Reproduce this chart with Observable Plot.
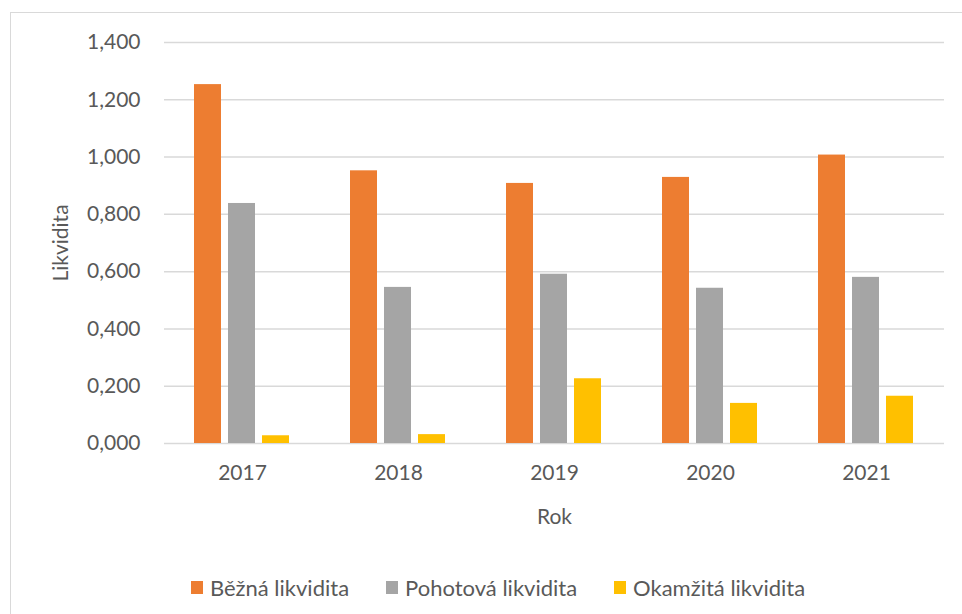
<!DOCTYPE html>
<html>
<head>
<meta charset="utf-8">
<script src="https://cdn.jsdelivr.net/npm/d3@7"></script>
<script src="https://cdn.jsdelivr.net/npm/@observablehq/plot@0.6"></script>
<style>
  html, body { margin: 0; padding: 0; background: #fff; }
  #wrap { position: relative; width: 962px; height: 614px; overflow: hidden; font-family: Lato, "Liberation Sans", sans-serif; }
  #frame { position: absolute; left: 10px; top: 12px; width: 980px; height: 640px; border: 1px solid #d9d9d9; box-sizing: border-box; }
  #chart { position: absolute; left: 0; top: 0; }
  #legend { position: absolute; left: 0; top: 560px; width: 962px; height: 54px; display: flex; justify-content: center; align-items: center; gap: 37px; padding-left: 34px; box-sizing: border-box; font-size: 22px; color: #595959; }
  .item { display: flex; align-items: center; gap: 7px; }
  .sw { width: 12px; height: 13px; display: inline-block; }
</style>
</head>
<body>
<div id="wrap">
  <div id="frame"></div>
  <div id="chart"></div>
  <div id="legend"></div>
</div>
<script>
const years = ["2017", "2018", "2019", "2020", "2021"];
const series = ["Běžná likvidita", "Pohotová likvidita", "Okamžitá likvidita"];
const bezna = [1.253, 0.952, 0.908, 0.929, 1.007];
const pohotova = [0.838, 0.545, 0.591, 0.542, 0.580];
const okamzita = [0.027, 0.031, 0.226, 0.140, 0.165];
const colors = ["#ED7D31", "#A5A5A5", "#FFC000"];
const yTicks = [0, 0.2, 0.4, 0.6, 0.8, 1.0, 1.2, 1.4];
const yLabel = "Likvidita";
const xLabel = "Rok";

const valuesBySeries = [bezna, pohotova, okamzita];
const data = [];
years.forEach((yr, i) => {
  series.forEach((s, j) => data.push({year: yr, series: s, value: valuesBySeries[j][i]}));
});

const chart = Plot.plot({
  width: 962,
  height: 560,
  marginLeft: 162,
  marginRight: 16,
  marginTop: 42,
  marginBottom: 117,
  style: {fontFamily: "Lato, 'Liberation Sans', sans-serif", fontSize: "21px", color: "#595959", background: "transparent", overflow: "visible"},
  fx: {domain: years, paddingInner: 0, paddingOuter: 0, axis: "bottom", tickSize: 0, tickPadding: 22, label: xLabel, labelAnchor: "center", labelOffset: 80},
  x: {domain: series, paddingInner: 0.2, paddingOuter: 0.874, axis: null},
  y: {domain: [0, 1.4], ticks: yTicks, tickSize: 0, tickPadding: 24, tickFormat: d => d.toFixed(3).replace(".", ","), label: yLabel, labelAnchor: "center", labelOffset: 111, labelArrow: "none"},
  color: {domain: series, range: colors},
  marks: [
    Plot.ruleY(yTicks, {stroke: "#d9d9d9", strokeWidth: 1.5}),
    Plot.barY(data, {fx: "year", x: "series", y: "value", fill: "series"})
  ]
});
document.getElementById("chart").appendChild(chart);

const legend = document.getElementById("legend");
series.forEach((s, j) => {
  const it = document.createElement("div");
  it.className = "item";
  const sw = document.createElement("span");
  sw.className = "sw";
  sw.style.background = colors[j];
  const t = document.createElement("span");
  t.textContent = s;
  it.appendChild(sw);
  it.appendChild(t);
  legend.appendChild(it);
});
</script>
</body>
</html>
